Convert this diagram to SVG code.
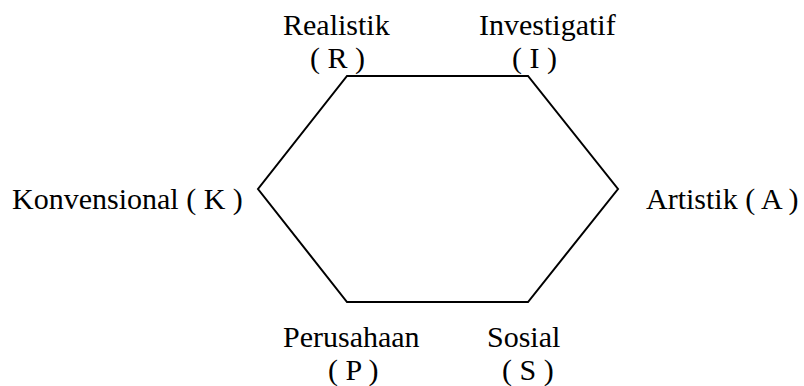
<svg xmlns="http://www.w3.org/2000/svg" width="804" height="386" viewBox="0 0 804 386">
<style>
text { font-family: 'Liberation Serif', 'Times New Roman', Times, 'DejaVu Serif', serif; font-size: 30px; fill: #000; }
.edge { fill: none; stroke: #000; stroke-width: 2; stroke-linejoin: miter; }
</style>
<rect width="804" height="386" fill="#fff"/>
<g id="connectors">
<polygon class="edge" points="347,76 528,76 618,189 528,302 347,302 258,189"/>
</g>
<g id="node-R"><text x="283" y="35">Realistik</text><text x="310" y="68">( R )</text></g>
<g id="node-I"><text x="479" y="35">Investigatif</text><text x="512" y="68">( I )</text></g>
<g id="node-A"><text x="646" y="209">Artistik ( A )</text></g>
<g id="node-S"><text x="487" y="347">Sosial</text><text x="502" y="380">( S )</text></g>
<g id="node-P"><text x="283" y="347">Perusahaan</text><text x="328" y="380">( P )</text></g>
<g id="node-K"><text x="12" y="209">Konvensional ( K )</text></g>
</svg>
